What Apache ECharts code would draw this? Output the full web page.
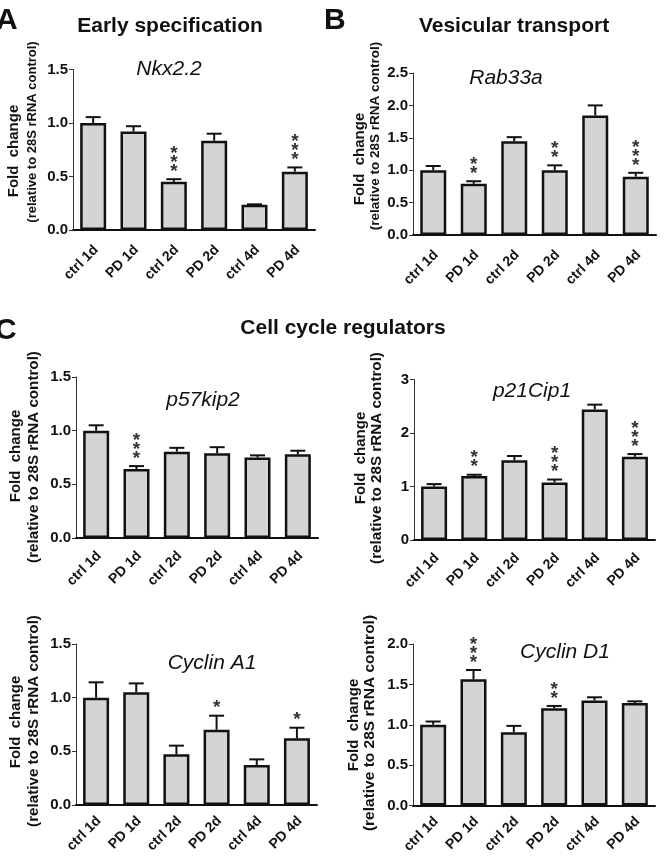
<!DOCTYPE html>
<html><head><meta charset="utf-8">
<script src="https://cdn.jsdelivr.net/npm/echarts@6/dist/echarts.min.js"></script>
<style>html,body{margin:0;padding:0;background:#fff}#c{width:666px;height:861px}</style>
</head><body><div id="c"></div>
<script>
var categories = ['ctrl 1d','PD 1d','ctrl 2d','PD 2d','ctrl 4d','PD 4d'];

var nkx22Mean   = [1.00, 0.92, 0.45, 0.835, 0.235, 0.545];
var nkx22Err    = [0.055, 0.05, 0.025, 0.065, 0.005, 0.04];
var nkx22Stars  = [0, 0, 3, 0, 0, 3];

var rab33aMean  = [1.00, 0.79, 1.445, 1.00, 1.845, 0.90];
var rab33aErr   = [0.065, 0.04, 0.065, 0.075, 0.155, 0.06];
var rab33aStars = [0, 2, 0, 2, 0, 3];

var p57Mean     = [1.00, 0.643, 0.804, 0.79, 0.75, 0.78];
var p57Err      = [0.05, 0.027, 0.036, 0.056, 0.02, 0.033];
var p57Stars    = [0, 3, 0, 0, 0, 0];

var p21Mean     = [1.00, 1.195, 1.49, 1.077, 2.44, 1.556];
var p21Err      = [0.045, 0.025, 0.08, 0.053, 0.09, 0.05];
var p21Stars    = [0, 2, 0, 3, 0, 3];

var cycA1Mean   = [1.00, 1.05, 0.472, 0.70, 0.373, 0.621];
var cycA1Err    = [0.143, 0.083, 0.081, 0.132, 0.052, 0.099];
var cycA1Stars  = [0, 0, 0, 1, 0, 1];

var cycD1Mean   = [1.00, 1.563, 0.907, 1.204, 1.299, 1.27];
var cycD1Err    = [0.04, 0.115, 0.079, 0.029, 0.041, 0.02];
var cycD1Stars  = [0, 3, 0, 2, 0, 0];

var yMax      = [1.5, 2.5, 1.5, 3, 1.5, 2.0];
var yInterval = [0.5, 0.5, 0.5, 1, 0.5, 0.5];
var yDecimals = [1, 1, 1, 0, 1, 1];

var geneNames = ['Nkx2.2','Rab33a','p57kip2','p21Cip1','Cyclin A1','Cyclin D1'];
var panelTitles = ['Early specification','Vesicular transport','Cell cycle regulators'];
var panelLetters = ['A','B','C'];
var yName1 = 'Fold  change';
var yName2 = '(relative to 28S rRNA control)';

var means = [nkx22Mean, rab33aMean, p57Mean, p21Mean, cycA1Mean, cycD1Mean];
var errs  = [nkx22Err, rab33aErr, p57Err, p21Err, cycA1Err, cycD1Err];
var stars = [nkx22Stars, rab33aStars, p57Stars, p21Stars, cycA1Stars, cycD1Stars];

// layout (pixels)
var grids = [
  {left: 73,  top: 69.5, width: 242, height: 160.5},
  {left: 413, top: 73,   width: 243, height: 162},
  {left: 76,  top: 377,  width: 242, height: 161},
  {left: 414, top: 379.5,width: 241, height: 160.5},
  {left: 76,  top: 644,  width: 241, height: 161},
  {left: 413, top: 644,  width: 242, height: 161.5}
];
var xLabelMargin = [15, 15, 13, 13, 11, 11];
var genePos = [[169,69],[506,78],[203,400],[532,391],[212,663],[565,652]];
var yNamePos = [
  [[14,151],[32,132]],
  [[360,159],[375,136]],
  [[16,456],[34,457]],
  [[361,458],[377,458]],
  [[16,722],[34,721]],
  [[354,725],[370,723]]
];
var yName2Size = [13, 13.5, 15.2, 15.2, 15.2, 15.5];

var FONT = '"Liberation Sans", Arial, Helvetica, sans-serif';
var chart = echarts.init(document.getElementById('c'), null, {renderer:'canvas'});

var option = {
  backgroundColor: '#fff',
  animation: false,
  grid: [], xAxis: [], yAxis: [], series: [], graphic: []
};

grids.forEach(function(g, k){
  option.grid.push({left: g.left, top: g.top, width: g.width, height: g.height, containLabel: false, outerBoundsMode: 'none'});
  option.xAxis.push({
    type: 'category', gridIndex: k, data: categories,
    axisLine: {lineStyle: {color: '#111', width: 2}},
    axisTick: {alignWithLabel: true, length: 5, lineStyle: {color: '#222', width: 1.5}},
    axisLabel: {rotate: 45, margin: xLabelMargin[k], color: '#111', fontWeight: 'bold', fontSize: 14, fontFamily: FONT,
      interval: 0, verticalAlign: 'top', lineHeight: 8},
    splitLine: {show: false}
  });
  option.yAxis.push({
    type: 'value', gridIndex: k, min: 0, max: yMax[k], interval: yInterval[k],
    axisLine: {show: true, lineStyle: {color: '#333', width: 1}},
    axisTick: {show: true, length: 4, lineStyle: {color: '#333', width: 1}},
    axisLabel: {margin: 5, color: '#111', fontWeight: 'bold', fontSize: 15, fontFamily: FONT,
      formatter: (function(d){ return function(v){ return v.toFixed(d); }; })(yDecimals[k])},
    splitLine: {show: false}
  });
  option.series.push({
    type: 'bar', xAxisIndex: k, yAxisIndex: k, data: means[k], barWidth: 26,
    itemStyle: {color: '#d4d4d4', borderColor: '#111', borderWidth: 2.5},
    z: 2
  });
  var cdata = means[k].map(function(m, i){ return [i, m, errs[k][i], stars[k][i]]; });
  option.series.push({
    type: 'custom', xAxisIndex: k, yAxisIndex: k, data: cdata, z: 3,
    encode: {x: 0, y: 1},
    renderItem: function(params, api){
      var i = api.value(0), m = api.value(1), e = api.value(2), s = api.value(3);
      var p0 = api.coord([i, m]);
      var p1 = api.coord([i, m + e]);
      var ch = [
        {type: 'line', shape: {x1: p0[0], y1: p0[1], x2: p1[0], y2: p1[1]}, style: {stroke: '#111', lineWidth: 2}},
        {type: 'line', shape: {x1: p1[0] - 7.5, y1: p1[1], x2: p1[0] + 7.5, y2: p1[1]}, style: {stroke: '#111', lineWidth: 2}}
      ];
      for (var j = 0; j < s; j++) {
        ch.push({type: 'text', x: p1[0], y: p1[1] - 7.5 - j * 9,
          style: {text: '*', font: 'bold 19px ' + FONT, fill: '#333', align: 'center', verticalAlign: 'middle'}});
      }
      return {type: 'group', children: ch};
    }
  });
  option.graphic.push({type: 'text', x: genePos[k][0], y: genePos[k][1],
    style: {text: geneNames[k], font: 'italic 21px ' + FONT, fill: '#111', align: 'center', verticalAlign: 'middle'}});
  option.graphic.push({type: 'text', x: yNamePos[k][0][0], y: yNamePos[k][0][1], rotation: Math.PI/2,
    style: {text: yName1, font: 'bold 15px ' + FONT, fill: '#111', align: 'center', verticalAlign: 'middle'}});
  option.graphic.push({type: 'text', x: yNamePos[k][1][0], y: yNamePos[k][1][1], rotation: Math.PI/2,
    style: {text: yName2, font: 'bold ' + yName2Size[k] + 'px ' + FONT, fill: '#111', align: 'center', verticalAlign: 'middle'}});
});

var titlePos = [[170,26],[514,26],[343,328]];
var letterPos = [[-4,21],[324,21],[-5,331]];
for (var t = 0; t < 3; t++) {
  option.graphic.push({type: 'text', x: titlePos[t][0], y: titlePos[t][1],
    style: {text: panelTitles[t], font: 'bold 21px ' + FONT, fill: '#111', align: 'center', verticalAlign: 'middle'}});
  option.graphic.push({type: 'text', x: letterPos[t][0], y: letterPos[t][1],
    style: {text: panelLetters[t], font: 'bold 30px ' + FONT, fill: '#111', align: 'left', verticalAlign: 'middle'}});
}

chart.setOption(option);
</script></body></html>
